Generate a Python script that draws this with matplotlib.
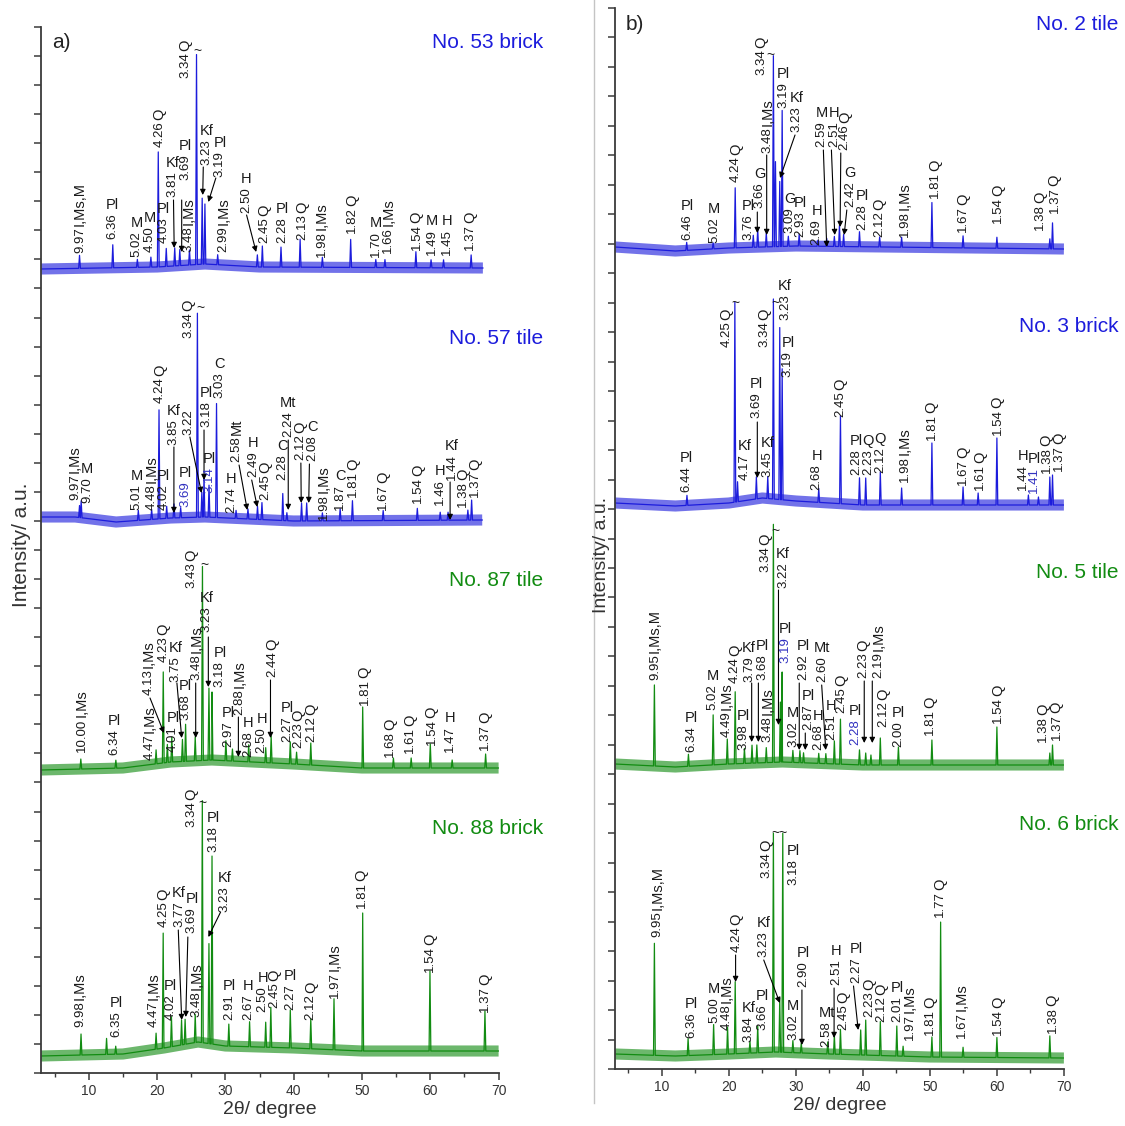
import numpy as np
import matplotlib
matplotlib.use("Agg")
import matplotlib.pyplot as plt
from matplotlib.ticker import MultipleLocator
from matplotlib.lines import Line2D

plt.rcParams['font.family'] = ['Liberation Sans', 'DejaVu Sans']

# ---- colours / sizes
BLUE = '#1c1cdc'
GREEN = '#128c12'
BLUE_TXT = '#3232c0'
INK = '#1a1a1a'
DFS = 9.5     # d-spacing labels
MFS = 10.5    # mineral labels
TFS = 15      # sample titles

# ---- data: 2theta / intensity (a.u., height above x axis of each panel)
# panel a) No. 53 brick
S53_BG_X = [3, 20, 27, 35, 67.7]
S53_BG_Y = [804, 806, 809, 806, 805]
S53_PK_X = [8.64, 13.51, 17.11, 19.09, 20.17, 21.34, 22.58, 23.32, 24.74, 25.77, 26.6, 27.0, 28.87,
            34.68, 35.41, 38.14, 40.94, 44.20, 48.34, 52.02, 53.36, 57.89, 60.11, 61.94, 65.98]
S53_PK_Y = [13, 23, 8, 10, 115, 18, 18, 16, 15, 210, 66, 60, 10,
            12, 21, 20, 28, 10, 28, 8, 8, 16, 8, 8, 13]
S53_LABELS = [(8.71, 820, '9.97', 'I,Ms,M', 'r'), (13.5, 834, '6.36', 'Pl', 'h'),
              (17.0, 816, '5.02', 'M', 'h'), (18.96, 821, '4.50', 'M', 'h'),
              (20.32, 926, '4.26', 'Q', 'r'), (20.9, 830, '4.03', 'Pl', 'h'),
              (22.3, 876, '3.81', 'Kf', 'h'), (24.1, 893, '3.69', 'Pl', 'h'),
              (24.57, 821, '3.48', 'I,Ms', 'r'), (24.1, 995, '3.34', 'Q', 'r'),
              (27.2, 908, '3.23', 'Kf', 'h'), (29.2, 896, '3.19', 'Pl', 'h'),
              (29.7, 821, '2.99', 'I,Ms', 'r'), (33.0, 860, '2.50', 'H', 'h'),
              (35.65, 830, '2.45', 'Q', 'r'), (38.4, 830, '2.28', 'Pl', 'h'),
              (41.2, 833, '2.13', 'Q', 'r'), (44.1, 816, '1.98', 'I,Ms', 'r'),
              (48.5, 840, '1.82', 'Q', 'r'), (52.1, 816, '1.70', 'M', 'h'),
              (53.85, 820, '1.66', 'I,Ms', 'r'), (58.0, 823, '1.54', 'Q', 'r'),
              (60.2, 818, '1.49', 'M', 'h'), (62.4, 818, '1.45', 'H', 'h'),
              (65.8, 823, '1.37', 'Q', 'r')]
S53_ARROWS = [(22.4, 873, 22.5, 825), (23.6, 873, 23.6, 821), (26.76, 906, 26.68, 878),
              (28.6, 895, 27.5, 871), (33.1, 858, 34.5, 821)]
S53_TILDES = [(25.9, 1022, '~')]

# panel a) No. 57 tile
S57_BG_X = [3, 8, 14, 22, 27, 40, 67.6]
S57_BG_Y = [556, 556, 551, 555, 556, 552, 553]
S57_PK_X = [8.64, 8.88, 17.25, 19.2, 20.28, 21.4, 22.47, 23.45, 25.9, 26.55, 26.87, 27.6, 28.7,
            31.56, 33.3, 34.7, 35.35, 38.4, 39.0, 41.15, 41.9, 44.2, 46.8, 48.6, 53.1, 58.1,
            61.45, 62.6, 65.5, 66.05]
S57_PK_Y = [12, 17, 10, 10, 109, 12, 14, 10, 204, 25, 40, 32, 114,
            8, 10, 13, 17, 27, 8, 18, 18, 8, 12, 20, 10, 12,
            8, 8, 10, 20]
S57_LABELS = [(7.98, 573, '9.97', 'I,Ms', 'r'), (9.78, 570, '9.70', 'M', 'h'),
              (17.0, 563, '5.01', 'M', 'h'), (19.2, 563, '4.48', 'I,Ms', 'r'),
              (20.42, 670, '4.24', 'Q', 'r'), (20.9, 563, '4.02', 'Pl', 'h'),
              (22.37, 628, '3.85', 'Kf', 'h'), (24.08, 566, '3.69', 'Pl', 'hB'),
              (24.57, 638, '3.22', '', ''), (24.57, 735, '3.34', 'Q', 'r'),
              (27.26, 646, '3.18', 'Pl', 'h'), (27.64, 580, '3.14', 'Pl', 'hB'),
              (29.2, 675, '3.03', 'C', 'h'), (30.9, 560, '2.74', 'H', 'h'),
              (31.65, 611, '2.58', 'Mt', 'r'), (34.1, 596, '2.49', 'H', 'h'),
              (35.8, 573, '2.45', 'Q', 'r'), (38.4, 593, '2.28', 'C', 'h'),
              (39.2, 636, '2.24', 'Mt', 'h'), (40.9, 613, '2.12', 'Q', 'r'),
              (42.75, 612, '2.08', 'C', 'h'), (44.45, 553, '1.98', 'I,Ms', 'r'),
              (46.8, 563, '1.87', 'C', 'h'), (48.73, 576, '1.81', 'Q', 'r'),
              (53.1, 563, '1.67', 'Q', 'r'), (58.24, 570, '1.54', 'Q', 'r'),
              (61.4, 568, '1.46', 'H', 'h'), (63.1, 593, '1.44', 'Kf', 'h'),
              (64.8, 566, '1.38', 'Q', 'r'), (66.55, 576, '1.37', 'Q', 'r')]
S57_ARROWS = [(22.46, 626, 22.46, 560), (24.8, 636, 26.5, 580), (26.87, 643, 26.87, 593),
              (32.0, 608, 33.2, 563), (33.85, 593, 34.67, 566), (39.2, 633, 39.2, 563),
              (41.05, 610, 41.1, 570), (42.3, 609, 42.2, 570), (62.9, 591, 62.9, 553)]
S57_TILDES = [(26.4, 765, '~')]

# panel a) No. 87 tile
S87_BG_X = [3, 15, 22, 28, 40, 50, 70]
S87_BG_Y = [303, 305, 311, 313, 309, 305, 305]
S87_PK_X = [8.83, 13.96, 19.85, 20.9, 21.50, 22.15, 23.71, 24.17, 25.58, 26.64, 27.59, 28.04,
            30.07, 31.03, 33.41, 35.9, 36.7, 39.5, 40.42, 42.5, 50.1, 54.6, 57.2, 60.0, 63.2, 68.1]
S87_PK_Y = [10, 8, 14, 91, 18, 25, 22, 37, 24, 194, 72, 68,
            20, 12, 17, 15, 27, 22, 12, 22, 61, 10, 10, 24, 8, 14]
S87_LABELS = [(8.95, 321, '10.00', 'I,Ms', 'r'), (13.8, 318, '6.34', 'Pl', 'h'),
              (18.96, 313, '4.47', 'I,Ms', 'r'), (18.7, 378, '4.13', 'I,Ms', 'r'),
              (20.9, 411, '4.23', 'Q', 'r'), (22.3, 321, '4.01', 'Pl', 'h'),
              (22.7, 391, '3.75', 'Kf', 'h'), (24.1, 353, '3.68', 'Pl', 'h'),
              (25.8, 393, '3.48', 'I,Ms', 'r'), (25.06, 485, '3.43', 'Q', 'r'),
              (27.26, 441, '3.23', 'Kf', 'h'), (29.2, 386, '3.18', 'Pl', 'h'),
              (30.4, 326, '2.97', 'Pl', 'h'), (32.1, 358, '2.88', 'I,Ms', 'r'),
              (33.35, 316, '2.68', 'H', 'h'), (35.3, 320, '2.50', 'H', 'h'),
              (36.8, 396, '2.44', 'Q', 'r'), (39.0, 331, '2.27', 'Pl', 'h'),
              (40.7, 325, '2.23', 'Q', 'r'), (42.6, 331, '2.12', 'Q', 'r'),
              (50.4, 368, '1.81', 'Q', 'r'), (54.1, 316, '1.68', 'Q', 'r'),
              (57.0, 320, '1.61', 'Q', 'r'), (60.2, 328, '1.54', 'Q', 'r'),
              (62.9, 321, '1.47', 'H', 'h'), (68.0, 323, '1.37', 'Q', 'r')]
S87_ARROWS = [(18.96, 375, 21.0, 340), (22.9, 390, 23.6, 335), (25.65, 390, 25.65, 335),
              (27.5, 436, 27.5, 386), (31.9, 356, 31.9, 316), (36.6, 393, 36.6, 335)]
S87_TILDES = [(26.9, 508, '~')]

# panel a) No. 88 brick
S88_BG_X = [3, 15, 21, 26, 30, 40, 50, 70]
S88_BG_Y = [17, 19, 25, 31, 27, 25, 22, 22]
S88_PK_X = [8.86, 12.6, 13.94, 19.85, 20.89, 22.10, 23.58, 24.10, 25.58, 26.62, 27.59, 28.04,
            30.5, 33.54, 35.9, 36.65, 39.5, 42.5, 45.9, 50.1, 59.95, 68.0]
S88_PK_Y = [21, 16, 8, 16, 115, 30, 25, 25, 28, 242, 100, 188,
            22, 25, 25, 40, 38, 30, 51, 138, 80, 40]
S88_LABELS = [(8.71, 46, '9.98', 'I,Ms', 'r'), (14.1, 36, '6.35', 'Pl', 'h'),
              (19.55, 46, '4.47', 'I,Ms', 'r'), (20.9, 146, '4.25', 'Q', 'r'),
              (22.0, 53, '4.02', 'Pl', 'h'), (23.2, 146, '3.77', 'Kf', 'h'),
              (25.1, 140, '3.69', 'Pl', 'h'), (25.8, 56, '3.48', 'I,Ms', 'r'),
              (25.06, 246, '3.34', 'Q', 'r'), (28.2, 221, '3.18', 'Pl', 'h'),
              (29.9, 161, '3.23', 'Kf', 'h'), (30.6, 53, '2.91', 'Pl', 'h'),
              (33.35, 53, '2.67', 'H', 'h'), (35.45, 61, '2.50', 'H', 'h'),
              (37.1, 65, '2.45', 'Q', 'r'), (39.45, 63, '2.27', 'Pl', 'h'),
              (42.5, 53, '2.12', 'Q', 'r'), (46.05, 75, '1.97', 'I,Ms', 'r'),
              (49.95, 165, '1.81', 'Q', 'r'), (59.95, 101, '1.54', 'Q', 'r'),
              (68.0, 61, '1.37', 'Q', 'r')]
S88_ARROWS = [(23.1, 143, 23.6, 53), (24.5, 136, 24.2, 56), (29.3, 161, 27.5, 136)]
S88_TILDES = [(26.6, 270, '~')]

# panel b) No. 2 tile
S2_BG_X = [3, 12, 20, 30, 70]
S2_BG_Y = [822, 818, 821, 823, 820]
S2_PK_X = [13.7, 17.65, 20.94, 23.64, 24.3, 25.58, 26.64, 26.95, 27.59, 27.95, 28.87, 30.49,
           33.28, 34.6, 35.74, 36.5, 37.12, 39.49, 42.5, 45.78, 50.3, 54.95, 60.0, 67.9, 68.3]
S2_PK_Y = [8, 6, 60, 12, 18, 14, 191, 85, 65, 136, 10, 12,
           6, 8, 10, 21, 12, 15, 10, 10, 45, 12, 11, 10, 26]
S2_LABELS = [(13.85, 829, '6.46', 'Pl', 'h'), (17.78, 826, '5.02', 'M', 'h'),
             (21.06, 887, '4.24', 'Q', 'r'), (22.9, 829, '3.76', 'Pl', 'h'),
             (24.6, 861, '3.66', 'G', 'h'), (25.73, 916, '3.48', 'I,Ms', 'r'),
             (24.9, 994, '3.34', 'Q', 'r'), (28.1, 961, '3.19', 'Pl', 'h'),
             (30.1, 937, '3.23', 'Kf', 'h'), (29.1, 836, '3.09', 'G', 'h'),
             (30.6, 832, '2.93', 'Pl', 'h'), (33.1, 824, '2.69', 'H', 'h'),
             (33.85, 922, '2.59', 'M', 'h'), (35.7, 922, '2.51', 'H', 'h'),
             (37.3, 919, '2.46', 'Q', 'r'), (38.05, 862, '2.42', 'G', 'h'),
             (39.9, 839, '2.28', 'Pl', 'h'), (42.45, 832, '2.12', 'Q', 'r'),
             (46.3, 832, '1.98', 'I,Ms', 'r'), (50.76, 871, '1.81', 'Q', 'r'),
             (55.0, 837, '1.67', 'Q', 'r'), (60.2, 846, '1.54', 'Q', 'r'),
             (66.5, 839, '1.38', 'Q', 'r'), (68.6, 856, '1.37', 'Q', 'r')]
S2_ARROWS = [(24.24, 857, 24.24, 836), (25.64, 914, 25.64, 834), (29.87, 934, 27.63, 891),
             (34.1, 919, 34.6, 822), (35.3, 919, 35.8, 834), (36.7, 916, 36.6, 842),
             (37.6, 859, 37.2, 834)]
S2_TILDES = [(26.2, 1014, '~')]

# panel b) No. 3 brick
S3_BG_X = [3, 12, 20, 25, 30, 40, 70]
S3_BG_Y = [566, 563, 566, 571, 568, 564, 564]
S3_PK_X = [13.74, 20.89, 21.29, 24.10, 25.80, 26.64, 27.59, 27.95, 33.41, 36.65, 39.49, 40.42,
           42.6, 45.78, 50.3, 54.95, 57.2, 60.0, 64.7, 66.2, 67.9, 68.3]
S3_PK_Y = [10, 200, 20, 22, 22, 200, 172, 131, 14, 88, 27, 27,
           33, 17, 62, 18, 12, 67, 10, 8, 28, 30]
S3_LABELS = [(13.7, 577, '6.44', 'Pl', 'h'), (19.67, 722, '4.25', 'Q', 'r'),
             (22.4, 589, '4.17', 'Kf', 'h'), (24.15, 651, '3.69', 'Pl', 'h'),
             (25.73, 592, '3.45', 'Kf', 'h'), (25.24, 722, '3.34', 'Q', 'r'),
             (28.37, 749, '3.23', 'Kf', 'h'), (28.8, 692, '3.19', 'Pl', 'h'),
             (33.1, 579, '2.68', 'H', 'h'), (36.6, 652, '2.45', 'Q', 'r'),
             (39.0, 594, '2.28', 'Pl', 'h'), (40.8, 594, '2.23', 'Q', 'h'),
             (42.6, 596, '2.12', 'Q', 'h'), (46.3, 587, '1.98', 'I,Ms', 'r'),
             (50.27, 629, '1.81', 'Q', 'r'), (55.0, 584, '1.67', 'Q', 'r'),
             (57.5, 579, '1.61', 'Q', 'r'), (60.1, 634, '1.54', 'Q', 'r'),
             (63.9, 579, '1.44', 'H', 'h'), (65.6, 576, '1.41', 'Pl', 'hB'),
             (67.4, 596, '1.38', 'Q', 'r'), (69.3, 598, '1.37', 'Q', 'r')]
S3_ARROWS = [(24.24, 647, 24.24, 591)]
S3_TILDES = [(21.0, 766, '~'), (27.0, 766, '~')]

# panel b) No. 5 tile
S5_BG_X = [3, 12, 20, 28, 40, 70]
S5_BG_Y = [305, 302, 305, 307, 304, 304]
S5_PK_X = [8.88, 13.96, 17.65, 19.76, 20.94, 22.32, 23.45, 24.17, 25.58, 26.64, 27.68, 27.95,
           29.55, 30.6, 31.14, 33.41, 34.47, 35.74, 36.65, 39.49, 40.42, 41.2, 42.6, 45.3,
           50.3, 60.0, 67.9, 68.3]
S5_PK_Y = [81, 12, 50, 25, 72, 15, 18, 18, 15, 238, 60, 90,
           12, 12, 10, 10, 10, 23, 45, 15, 12, 10, 27, 18,
           25, 38, 12, 20]
S5_LABELS = [(8.97, 389, '9.95', 'I,Ms,M', 'r'), (14.34, 317, '6.34', 'Pl', 'h'),
             (17.58, 359, '5.02', 'M', 'h'), (19.67, 332, '4.49', 'I,Ms', 'r'),
             (20.9, 386, '4.24', 'Q', 'r'), (22.15, 319, '3.98', 'Pl', 'h'),
             (23.0, 387, '3.79', 'Kf', 'h'), (25.0, 389, '3.68', 'Pl', 'h'),
             (25.73, 327, '3.48', 'I,Ms', 'r'), (25.5, 497, '3.34', 'Q', 'r'),
             (28.1, 481, '3.22', 'Kf', 'h'), (28.37, 406, '3.19', 'Pl', 'hB'),
             (29.6, 322, '3.02', 'M', 'h'), (31.1, 389, '2.92', 'Pl', 'h'),
             (31.85, 339, '2.87', 'Pl', 'h'), (33.35, 319, '2.68', 'H', 'h'),
             (33.95, 387, '2.60', 'Mt', 'h'), (35.3, 329, '2.51', 'H', 'h'),
             (36.8, 356, '2.45', 'Q', 'r'), (38.8, 324, '2.28', 'Pl', 'hB'),
             (40.05, 391, '2.23', 'Q', 'r'), (42.3, 391, '2.19', 'I,Ms', 'r'),
             (43.05, 342, '2.12', 'Q', 'r'), (45.3, 322, '2.00', 'Pl', 'h'),
             (50.0, 334, '1.81', 'Q', 'r'), (60.2, 346, '1.54', 'Q', 'r'),
             (66.9, 327, '1.38', 'Q', 'r'), (68.9, 329, '1.37', 'Q', 'r')]
S5_ARROWS = [(23.4, 386, 23.4, 327), (24.4, 386, 24.4, 327), (27.4, 479, 27.4, 344),
             (30.5, 386, 30.5, 319), (31.4, 336, 31.4, 319), (33.85, 384, 34.45, 319),
             (40.2, 388, 40.2, 326), (41.4, 388, 41.4, 326)]
S5_TILDES = [(26.9, 538, '~')]

# panel b) No. 6 brick
S6_BG_X = [3, 12, 20, 27, 35, 50, 70]
S6_BG_Y = [15, 13, 15, 17, 15, 12, 11]
S6_PK_X = [8.88, 13.91, 17.72, 19.80, 20.94, 23.14, 24.3, 26.64, 27.59, 28.04, 29.55, 30.8,
           34.75, 35.74, 36.65, 39.67, 40.42, 42.6, 45.06, 46.0, 50.3, 51.6, 54.95, 60.0, 67.9]
S6_PK_Y = [112, 17, 30, 27, 72, 12, 27, 219, 54, 219, 12, 10,
           12, 19, 25, 25, 35, 34, 30, 10, 20, 135, 10, 20, 22]
S6_LABELS = [(9.32, 132, '9.95', 'I,Ms,M', 'r'), (14.34, 31, '6.36', 'Pl', 'h'),
             (17.78, 46, '5.00', 'M', 'h'), (19.67, 39, '4.48', 'I,Ms', 'r'),
             (21.16, 117, '4.24', 'Q', 'r'), (22.95, 27, '3.84', 'Kf', 'h'),
             (24.95, 39, '3.66', 'Pl', 'h'), (25.15, 112, '3.23', 'Kf', 'h'),
             (25.55, 191, '3.34', 'Q', 'r'), (29.6, 184, '3.18', 'Pl', 'h'),
             (29.6, 29, '3.02', 'M', 'h'), (31.1, 82, '2.90', 'Pl', 'h'),
             (34.6, 22, '2.58', 'Mt', 'h'), (36.0, 84, '2.51', 'H', 'h'),
             (37.1, 39, '2.45', 'Q', 'r'), (39.07, 86, '2.27', 'Pl', 'h'),
             (40.96, 52, '2.23', 'Q', 'r'), (42.8, 47, '2.12', 'Q', 'r'),
             (45.1, 47, '2.01', 'Pl', 'h'), (47.0, 29, '1.97', 'I,Ms', 'r'),
             (50.0, 34, '1.81', 'Q', 'r'), (51.5, 152, '1.77', 'Q', 'r'),
             (54.75, 31, '1.67', 'I,Ms', 'r'), (60.2, 34, '1.54', 'Q', 'r'),
             (68.3, 36, '1.38', 'Q', 'r')]
S6_ARROWS = [(21.0, 114, 21.0, 87), (25.2, 109, 27.6, 66), (30.9, 79, 30.9, 24),
             (35.7, 81, 35.7, 31), (38.6, 83, 39.3, 39)]
S6_TILDES = [(27.6, 236, '~~')]

TITLES_A = [('No. 53 brick', 1031, BLUE), ('No. 57 tile', 734, BLUE),
            ('No. 87 tile', 493, GREEN), ('No. 88 brick', 244, GREEN)]
TITLES_B = [('No. 2 tile', 1044, BLUE), ('No. 3 brick', 742, BLUE),
            ('No. 5 tile', 497, GREEN), ('No. 6 brick', 244, GREEN)]


def trace(bg_x, bg_y, pk_x, pk_y, hw=0.13):
    xs = sorted(set(list(bg_x) + [p + d for p in pk_x for d in (-hw, 0.0, hw)]))
    xs = np.array([x for x in xs if bg_x[0] <= x <= bg_x[-1]])
    ys = np.interp(xs, bg_x, bg_y)
    for p, h in zip(pk_x, pk_y):
        ys[xs == p] += h
    return xs, ys


def draw_pattern(ax, color, bg_x, bg_y, pk_x, pk_y, labels, arrows, tildes):
    # the noisy background is shown as a band around the baseline
    ax.plot(bg_x, bg_y, color=color, lw=8, alpha=0.62, solid_capstyle='butt', zorder=1)
    xs, ys = trace(bg_x, bg_y, pk_x, pk_y)
    ax.plot(xs, ys, color=color, lw=0.9, zorder=2)
    for x, y, d, mineral, kind in labels:
        dcol = BLUE_TXT if kind.endswith('B') else INK
        t = ax.text(x, y, d, rotation=90, ha='center', va='bottom', fontsize=DFS,
                    color=dcol, zorder=4)
        if mineral:
            rot = 90 if kind.startswith('r') else 0
            ax.annotate(mineral, xy=(0.5, 1), xycoords=t, xytext=(0, 1),
                        textcoords='offset points', rotation=rot, ha='center',
                        va='bottom', fontsize=MFS, color=INK, zorder=4)
    for x0, y0, x1, y1 in arrows:
        ax.annotate('', xy=(x1, y1), xytext=(x0, y0),
                    arrowprops=dict(arrowstyle='-|>', color='black', lw=0.8,
                                    mutation_scale=8, shrinkA=0, shrinkB=0), zorder=3)
    for x, y, s in tildes:
        ax.text(x, y, s, ha='center', va='center', fontsize=10, color=INK)


def style_axes(ax, height):
    ax.set_xlim(3, 70)
    ax.set_ylim(0, height)
    for side in ('top', 'right'):
        ax.spines[side].set_visible(False)
    for side in ('left', 'bottom'):
        ax.spines[side].set_color('#3a3a3a')
        ax.spines[side].set_linewidth(1.3)
    ax.xaxis.set_major_locator(MultipleLocator(10))
    ax.xaxis.set_minor_locator(MultipleLocator(5))
    ax.yaxis.set_major_locator(MultipleLocator(height / 36.0))
    ax.tick_params(axis='x', which='major', length=5, width=1.1, color='#3a3a3a',
                   labelsize=10, labelcolor='#333333', pad=3)
    ax.tick_params(axis='x', which='minor', length=3, width=1.0, color='#3a3a3a')
    ax.tick_params(axis='y', which='major', length=5, width=1.1, color='#3a3a3a',
                   labelleft=False)
    ax.set_xticks([10, 20, 30, 40, 50, 60, 70])
    ax.set_xlabel('2θ/ degree', fontsize=14, color='#333333', labelpad=2)
    ax.patch.set_alpha(0)


fig = plt.figure(figsize=(11.25, 11.26), dpi=100)
H_A, H_B = 1046, 1061
ax_a = fig.add_axes([41 / 1125, 53 / 1126, 457.6 / 1125, H_A / 1126])
ax_b = fig.add_axes([615 / 1125, 57 / 1126, 448.9 / 1125, H_B / 1126])
style_axes(ax_a, H_A)
style_axes(ax_b, H_B)

draw_pattern(ax_a, BLUE, S53_BG_X, S53_BG_Y, S53_PK_X, S53_PK_Y, S53_LABELS, S53_ARROWS, S53_TILDES)
draw_pattern(ax_a, BLUE, S57_BG_X, S57_BG_Y, S57_PK_X, S57_PK_Y, S57_LABELS, S57_ARROWS, S57_TILDES)
draw_pattern(ax_a, GREEN, S87_BG_X, S87_BG_Y, S87_PK_X, S87_PK_Y, S87_LABELS, S87_ARROWS, S87_TILDES)
draw_pattern(ax_a, GREEN, S88_BG_X, S88_BG_Y, S88_PK_X, S88_PK_Y, S88_LABELS, S88_ARROWS, S88_TILDES)
draw_pattern(ax_b, BLUE, S2_BG_X, S2_BG_Y, S2_PK_X, S2_PK_Y, S2_LABELS, S2_ARROWS, S2_TILDES)
draw_pattern(ax_b, BLUE, S3_BG_X, S3_BG_Y, S3_PK_X, S3_PK_Y, S3_LABELS, S3_ARROWS, S3_TILDES)
draw_pattern(ax_b, GREEN, S5_BG_X, S5_BG_Y, S5_PK_X, S5_PK_Y, S5_LABELS, S5_ARROWS, S5_TILDES)
draw_pattern(ax_b, GREEN, S6_BG_X, S6_BG_Y, S6_PK_X, S6_PK_Y, S6_LABELS, S6_ARROWS, S6_TILDES)

for title, y, col in TITLES_A:
    ax_a.text(76.5, y, title, ha='right', va='center', fontsize=TFS, color=col, clip_on=False)
for title, y, col in TITLES_B:
    ax_b.text(78.1, y, title, ha='right', va='center', fontsize=TFS, color=col, clip_on=False)

ax_a.text(4.6, 1031, 'a)', ha='left', va='center', fontsize=15, color='#222222')
ax_b.text(4.6, 1044, 'b)', ha='left', va='center', fontsize=15, color='#222222')

fig.text(22 / 1125, 1 - 545 / 1126, 'Intensity/ a.u.', rotation=90, ha='center', va='center',
         fontsize=15, color='#333333')
fig.text(601 / 1125, 1 - 555 / 1126, 'Intensity/ a.u.', rotation=90, ha='center', va='center',
         fontsize=14, color='#333333')
fig.add_artist(Line2D([594 / 1125, 594 / 1125], [0.02, 1.0], color='#c4c4c4', lw=1.0))

fig.savefig('out.png', dpi=100)
